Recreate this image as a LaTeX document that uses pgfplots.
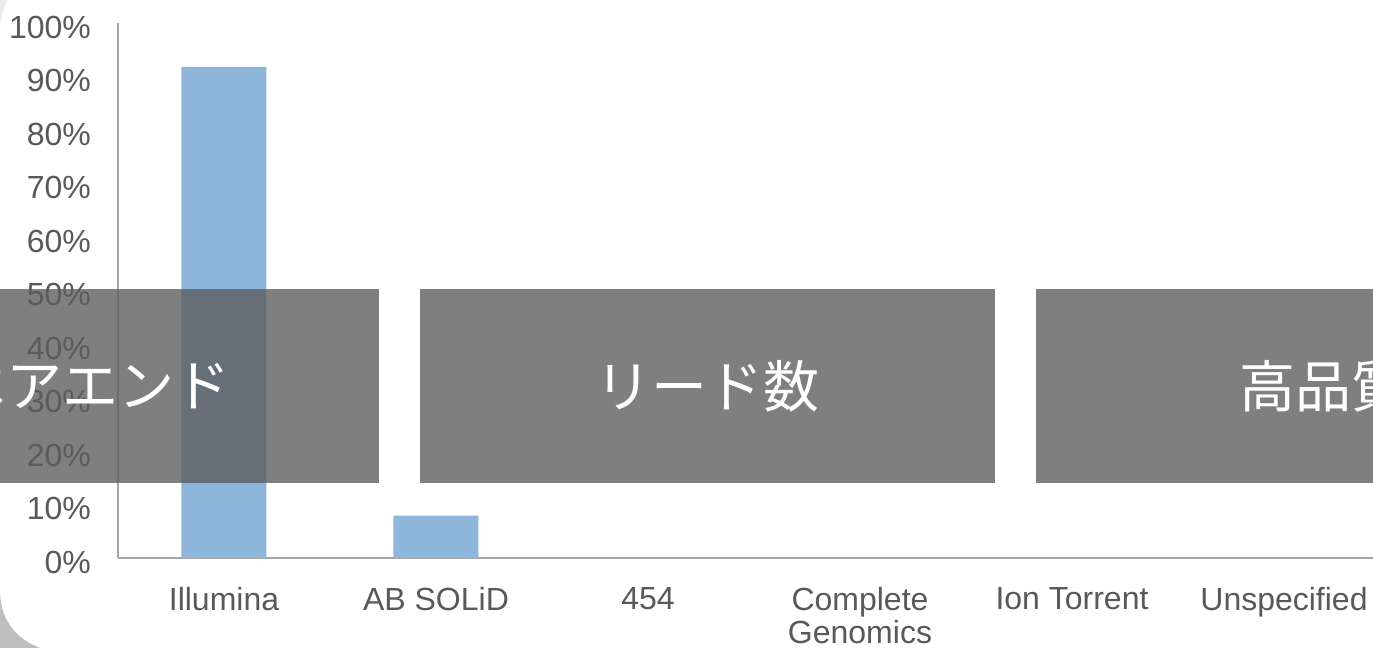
\documentclass[border=0pt]{standalone}
\usepackage{pgfplots}
\pgfplotsset{compat=1.18}
\usepackage{fontspec}
\setmainfont{Liberation Sans}
\newfontfamily\cjk{Noto Sans CJK JP}
\definecolor{axisgray}{HTML}{A6A6A6}
\definecolor{labelgray}{HTML}{595959}
\definecolor{barblue}{HTML}{8EB6DB}
\definecolor{boxgray}{HTML}{5C5C5C}
\begin{document}
\begin{tikzpicture}[x=1pt,y=1pt]
\useasboundingbox (-59,-45) rectangle (627.5,279);
\clip (-59,-45) rectangle (627.5,279);
\fill[white] (-59,-45) rectangle (627.5,279);
% slide background corners
\fill[color={rgb,255:red,191;green,191;blue,191}] (-59,-16) .. controls (-59,-30) and (-52,-40) .. (-39,-45) -- (-59,-45) -- cycle;
\fill[color={rgb,255:red,236;green,236;blue,236}] (-59,266.5) .. controls (-58,272) and (-57,276) .. (-55,279) -- (-59,279) -- cycle;
\begin{axis}[
  at={(0,0)}, anchor=south west,
  scale only axis, width=636pt, height=267.5pt,
  xmin=-0.5, xmax=5.5, ymin=0, ymax=100,
  axis x line=bottom, axis y line=left,
  axis line style={-, draw=axisgray, line width=1pt},
  major tick length=0pt,
  ytick={0,10,...,100},
  yticklabels={0\%,10\%,20\%,30\%,40\%,50\%,60\%,70\%,80\%,90\%,100\%},
  xtick={0,1,2,3,4,5},
  xticklabels={Illumina,AB SOLiD,454,{Complete\\Genomics},Ion Torrent,Unspecified},
  tick label style={font=\fontsize{16}{16.5}\selectfont, text=labelgray},
  xticklabel style={align=center, yshift=-11pt},
  yticklabel style={xshift=-10pt, yshift=-2pt},
  ybar, bar width=42.5pt,
  clip=false,
]
\addplot[fill=barblue, draw=none] coordinates {(0,91.8) (1,7.9) (2,0) (3,0) (4,0) (5,0)};
\end{axis}
% overlay boxes
\fill[boxgray, opacity=0.78] (-157,37.5) rectangle (130.5,134.5);
\fill[boxgray, opacity=0.78] (151,37.5) rectangle (438.5,134.5);
\fill[boxgray, opacity=0.78] (459,37.5) rectangle (746.5,134.5);
\node[text=white, font=\cjk\fontsize{28}{28}\selectfont] at (-13.5,86) {ペアエンド};
\node[text=white, font=\cjk\fontsize{28}{28}\selectfont] at (294.5,86) {リード数};
\node[text=white, font=\cjk\fontsize{28}{28}\selectfont] at (602.5,86) {高品質};
\end{tikzpicture}
\end{document}
